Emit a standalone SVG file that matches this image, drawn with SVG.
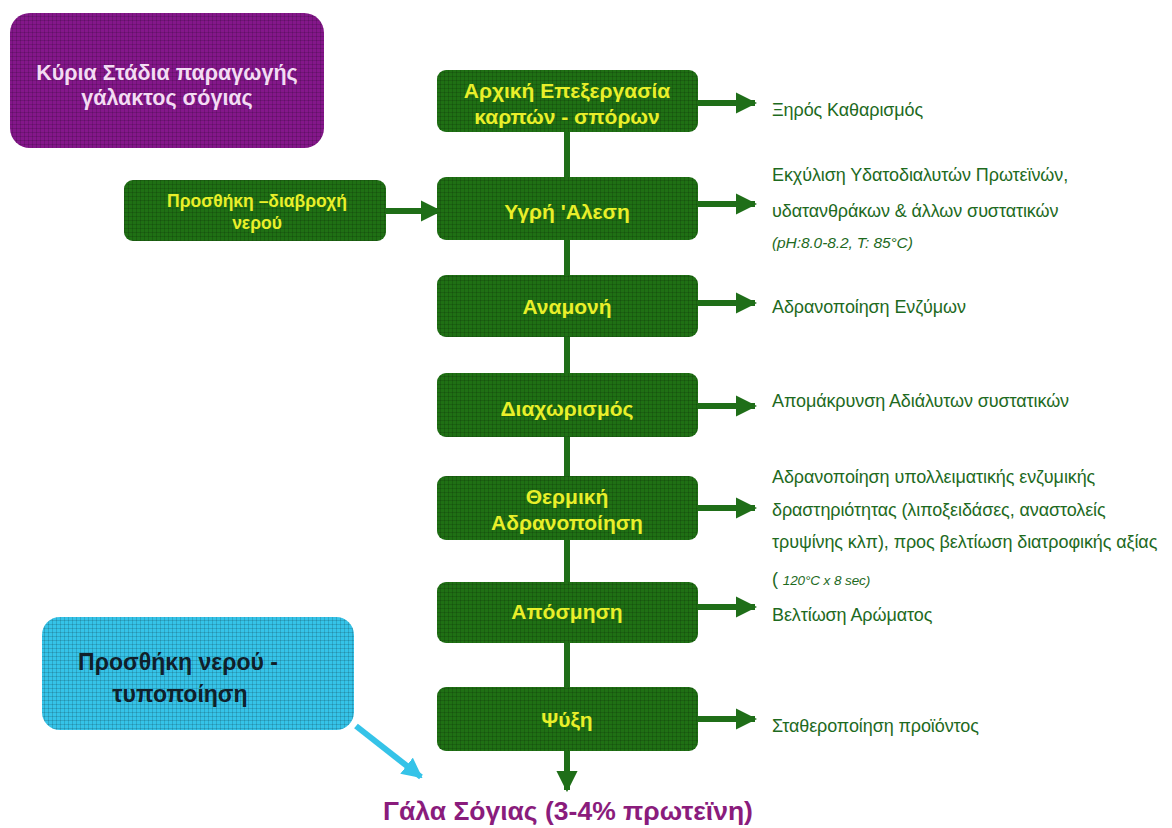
<svg xmlns="http://www.w3.org/2000/svg" width="1172" height="828" viewBox="0 0 1172 828">
<defs>
<pattern id="tex" width="4" height="4" patternUnits="userSpaceOnUse">
<rect width="4" height="4" fill="none"/>
<path d="M0 0.5H4M0.5 0V4" stroke="#000" stroke-opacity="0.14" stroke-width="1"/>
</pattern>
<marker id="ah" viewBox="0 0 10 10" refX="9" refY="5" markerWidth="3.6" markerHeight="3.6" orient="auto" markerUnits="strokeWidth">
<path d="M0 0L10 5L0 10Z" fill="#1f6e18"/>
</marker>
<marker id="ahc" viewBox="0 0 10 10" refX="9" refY="5" markerWidth="3.4" markerHeight="3.4" orient="auto" markerUnits="strokeWidth">
<path d="M0 0L10 5L0 10Z" fill="#35c3e8"/>
</marker>
</defs>
<style>
.g{fill:#1f7014;}
.tx{fill:url(#tex);}
.yt{font-family:"Liberation Sans",Arial,sans-serif;font-weight:bold;font-size:21px;fill:#e9ef2a;text-anchor:middle;}
.ys{font-size:17.5px;}
.rt{font-family:"Liberation Sans",Arial,sans-serif;font-size:18px;fill:#1e6a1e;letter-spacing:-0.1px;}
.it{font-style:italic;font-size:15.5px;}
.con{stroke:#1f6e18;stroke-width:6;fill:none;}
</style>
<rect width="1172" height="828" fill="#fff"/>

<g id="title">
<rect x="10" y="13" width="314" height="135" rx="20" fill="#84178a"/>
<rect x="10" y="13" width="314" height="135" rx="20" class="tx"/>
<text x="167" y="80" font-family="Liberation Sans,Arial,sans-serif" font-size="21.5" font-weight="bold" fill="#f3dcf3" text-anchor="middle">Κύρια Στάδια παραγωγής</text>
<text x="167" y="105" font-family="Liberation Sans,Arial,sans-serif" font-size="21.5" font-weight="bold" fill="#f3dcf3" text-anchor="middle">γάλακτος σόγιας</text>
</g>

<g id="connectors">
<line x1="567" y1="132" x2="567" y2="770" class="con" stroke-width="8"/>
<line x1="567" y1="750" x2="567" y2="790" class="con" stroke-width="8" marker-end="url(#ah)"/>
<line x1="697" y1="103" x2="755" y2="103" class="con" marker-end="url(#ah)"/>
<line x1="697" y1="204" x2="755" y2="204" class="con" marker-end="url(#ah)"/>
<line x1="697" y1="303" x2="755" y2="303" class="con" marker-end="url(#ah)"/>
<line x1="697" y1="406" x2="755" y2="406" class="con" marker-end="url(#ah)"/>
<line x1="697" y1="508" x2="755" y2="508" class="con" marker-end="url(#ah)"/>
<line x1="697" y1="607" x2="755" y2="607" class="con" marker-end="url(#ah)"/>
<line x1="697" y1="719" x2="755" y2="719" class="con" marker-end="url(#ah)"/>
<line x1="386" y1="211" x2="440" y2="211" class="con" marker-end="url(#ah)"/>
<line x1="356" y1="726" x2="421" y2="777" stroke="#35c3e8" stroke-width="6" marker-end="url(#ahc)"/>
</g>

<g id="n1"><rect x="437" y="70" width="261" height="62" rx="9" class="g"/><rect x="437" y="70" width="261" height="62" rx="9" class="tx"/>
<text x="567" y="98" class="yt">Αρχική Επεξεργασία</text><text x="567" y="124" class="yt">καρπών - σπόρων</text></g>
<g id="n2"><rect x="437" y="177" width="261" height="63" rx="9" class="g"/><rect x="437" y="177" width="261" height="63" rx="9" class="tx"/>
<text x="567" y="219" class="yt">Υγρή  'Αλεση</text></g>
<g id="n3"><rect x="437" y="275" width="261" height="62" rx="9" class="g"/><rect x="437" y="275" width="261" height="62" rx="9" class="tx"/>
<text x="567" y="314" class="yt">Αναμονή</text></g>
<g id="n4"><rect x="437" y="373" width="261" height="64" rx="9" class="g"/><rect x="437" y="373" width="261" height="64" rx="9" class="tx"/>
<text x="567" y="416" class="yt">Διαχωρισμός</text></g>
<g id="n5"><rect x="437" y="476" width="261" height="64" rx="9" class="g"/><rect x="437" y="476" width="261" height="64" rx="9" class="tx"/>
<text x="567" y="504" class="yt">Θερμική</text><text x="567" y="530" class="yt">Αδρανοποίηση</text></g>
<g id="n6"><rect x="437" y="582" width="261" height="61" rx="9" class="g"/><rect x="437" y="582" width="261" height="61" rx="9" class="tx"/>
<text x="567" y="619" class="yt">Απόσμηση</text></g>
<g id="n7"><rect x="437" y="687" width="261" height="64" rx="9" class="g"/><rect x="437" y="687" width="261" height="64" rx="9" class="tx"/>
<text x="567" y="727" class="yt">Ψύξη</text></g>
<g id="n0"><rect x="124" y="180" width="262" height="61" rx="9" class="g"/><rect x="124" y="180" width="262" height="61" rx="9" class="tx"/>
<text x="257" y="207" class="yt ys">Προσθήκη –διαβροχή</text><text x="257" y="229" class="yt ys">νερού</text></g>

<g id="notes">
<text x="772" y="116" class="rt">Ξηρός Καθαρισμός</text>
<text x="772" y="181" class="rt">Εκχύλιση Υδατοδιαλυτών Πρωτεϊνών,</text>
<text x="772" y="217" class="rt">υδατανθράκων &amp; άλλων συστατικών</text>
<text x="772" y="248" class="rt it">(pH:8.0-8.2, T: 85°C)</text>
<text x="772" y="313" class="rt">Αδρανοποίηση Ενζύμων</text>
<text x="772" y="407" class="rt">Απομάκρυνση Αδιάλυτων συστατικών</text>
<text x="772" y="483" class="rt">Αδρανοποίηση υπολλειματικής ενζυμικής</text>
<text x="772" y="516" class="rt">δραστηριότητας (λιποξειδάσες,  αναστολείς</text>
<text x="772" y="548" class="rt">τρυψίνης κλπ), προς βελτίωση διατροφικής αξίας</text>
<text x="772" y="585" class="rt">( <tspan font-style="italic" font-size="13.5">120°C x 8 sec)</tspan></text>
<text x="772" y="621" class="rt">Βελτίωση Αρώματος</text>
<text x="772" y="732" class="rt">Σταθεροποίηση προϊόντος</text>
</g>

<g id="water">
<rect x="42" y="617" width="312" height="113" rx="18" fill="#35c3e8"/>
<rect x="42" y="617" width="312" height="113" rx="18" class="tx"/>
<text x="178" y="670" font-family="Liberation Sans,Arial,sans-serif" font-size="23" font-weight="bold" fill="#10202a" text-anchor="middle">Προσθήκη νερού -</text>
<text x="180" y="702" font-family="Liberation Sans,Arial,sans-serif" font-size="23" font-weight="bold" fill="#10202a" text-anchor="middle">τυποποίηση</text>
</g>

<g id="product">
<text x="568" y="820" font-family="Liberation Sans,Arial,sans-serif" font-size="26.5" font-weight="bold" fill="#8a1c7c" text-anchor="middle">Γάλα Σόγιας (3-4% πρωτεϊνη)</text>
</g>
</svg>
